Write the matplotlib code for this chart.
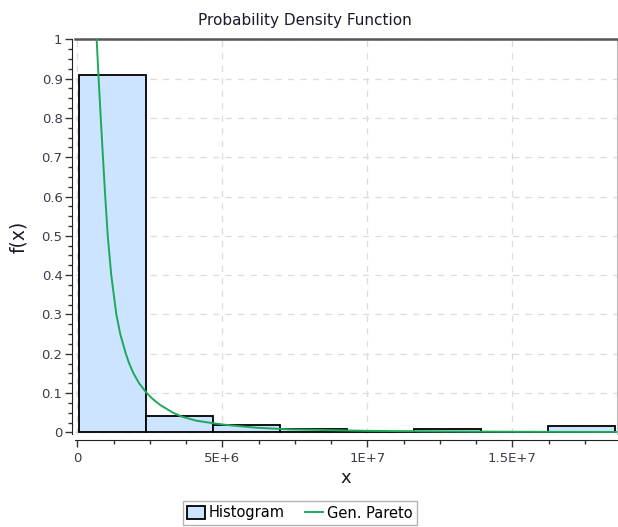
import numpy as np
import matplotlib.pyplot as plt
from matplotlib.ticker import MultipleLocator

plt.rcParams['font.family'] = ['DejaVu Sans']

# histogram (relative frequency per bin), 8 bins
bin_edges = [0.06e6, 2.37e6, 4.68e6, 6.99e6, 9.30e6, 11.61e6, 13.92e6, 16.23e6, 18.54e6]
bin_heights = [0.908, 0.043, 0.018, 0.008, 0.0, 0.009, 0.0, 0.017]

# fitted Gen. Pareto curve
pdf_x = [0.666e6, 0.734e6, 0.807e6, 0.883e6, 0.962e6, 1.048e6, 1.169e6, 1.345e6,
         1.48e6, 1.672e6, 1.79e6, 1.938e6, 2.13e6, 2.393e6, 2.60e6, 2.852e6,
         3.300e6, 3.610e6, 4.093e6, 4.714e6, 5.266e6, 6.162e6, 7.334e6, 10.0e6,
         12.5e6, 15.0e6, 18.6e6]
pdf_y = [1.0, 0.9, 0.8, 0.7, 0.6, 0.5, 0.4, 0.3,
         0.25, 0.2, 0.175, 0.15, 0.125, 0.1, 0.085, 0.07,
         0.05, 0.04, 0.03, 0.023, 0.018, 0.012, 0.0076, 0.004,
         0.0025, 0.0017, 0.0011]

x_ticks = [0, 5e6, 1e7, 1.5e7]
x_ticklabels = ['0', '5E+6', '1E+7', '1.5E+7']
y_ticks = np.round(np.arange(0, 1.01, 0.1), 1)
y_ticklabels = ['0'] + ['%.1f' % v for v in y_ticks[1:-1]] + ['1']

fig = plt.figure(figsize=(6.18, 5.27), dpi=100)
ax = fig.add_axes([0.1214, 0.1765, 0.877, 0.749])

widths = np.diff(bin_edges)
bars = ax.bar(bin_edges[:-1], bin_heights, width=widths, align='edge',
              color='#cce4ff', edgecolor='black', linewidth=1.3, label='Histogram', zorder=2)
line, = ax.plot(pdf_x, pdf_y, color='#1ea85a', linewidth=1.4, label='Gen. Pareto', zorder=3)

ax.set_xlim(-0.08e6, 18.61e6)
ax.set_ylim(-0.004, 1.0)

ax.set_xticks(x_ticks)
ax.set_xticklabels(x_ticklabels)
ax.set_yticks(y_ticks)
ax.set_yticklabels(y_ticklabels)
ax.xaxis.set_minor_locator(MultipleLocator(1.25e6))
ax.yaxis.set_minor_locator(MultipleLocator(0.025))
ax.tick_params(axis='both', which='major', length=5, width=1, colors='#333333',
               labelsize=9.5, labelcolor='#3c3c4c')
ax.tick_params(axis='both', which='minor', length=3, width=1, colors='#333333')
ax.tick_params(axis='x', pad=4)
ax.tick_params(axis='y', pad=2)

ax.grid(True, which='major', color='#dcdcdc', linestyle=(0, (5, 5)), linewidth=0.9, zorder=0)
ax.set_axisbelow(True)

ax.spines['left'].set_position(('outward', 2))
ax.spines['bottom'].set_position(('outward', 4))
ax.spines['left'].set_color('#222222')
ax.spines['bottom'].set_color('#222222')
ax.spines['top'].set_color('#555555')
ax.spines['top'].set_linewidth(1.8)
ax.spines['right'].set_color('#bbbbbb')
ax.spines['right'].set_linewidth(0.8)

# title is centred on the figure, not on the axes
fig.text(305 / 618, 1 - 20 / 527, 'Probability Density Function', fontsize=11,
         color='#1a1a2a', ha='center', va='center')
ax.set_xlabel('x', fontsize=13, color='#1a1a2a', labelpad=3)
ax.set_ylabel('f(x)', fontsize=13.5, color='#1a1a2a', labelpad=10)

fig.legend([bars, line], ['Histogram', 'Gen. Pareto'], loc='center',
           bbox_to_anchor=(300 / 618, 1 - 513 / 527), ncol=2,
           fontsize=10.5, frameon=True, fancybox=False, edgecolor='#a0a0a0',
           handlelength=1.2, handleheight=1.0, columnspacing=1.4, handletextpad=0.3,
           borderpad=0.3)

fig.savefig('out.png', dpi=100)
